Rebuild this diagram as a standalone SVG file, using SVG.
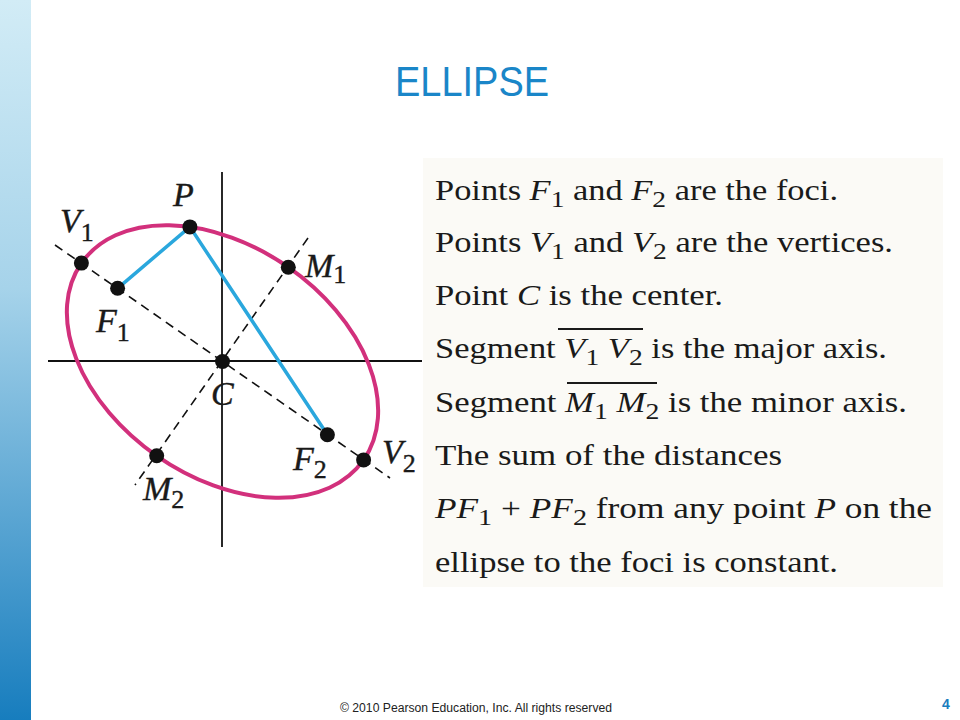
<svg xmlns="http://www.w3.org/2000/svg" width="960" height="720" viewBox="0 0 960 720">
<defs>
<linearGradient id="bar" x1="0" y1="0" x2="0" y2="1">
<stop offset="0" stop-color="#d2ecf6"/>
<stop offset="0.4" stop-color="#a6d3ea"/>
<stop offset="1" stop-color="#177dbe"/>
</linearGradient>
<style>
.lbl{font-family:"Liberation Serif",serif;font-style:italic;font-size:34px;fill:#1a1a1a;stroke:#1a1a1a;stroke-width:0.4}
.lsub{font-family:"Liberation Serif",serif;font-style:normal;font-size:26px}
.sub{font-family:"Liberation Serif",serif;font-style:normal;font-size:24px}
.body{font-family:"Liberation Serif",serif;font-size:30px;fill:#1a1a1a}
.it{font-style:italic}
.dash{stroke:#111;stroke-width:1.6;stroke-dasharray:9 6;fill:none}
.axis{stroke:#111;stroke-width:1.8}
.dot{fill:#111}
.seg{stroke:#2aa7dd;stroke-width:3.5;fill:none}
</style>
</defs>
<rect width="960" height="720" fill="#ffffff"/>
<rect x="0" y="0" width="31" height="720" fill="url(#bar)"/>
<text x="395" y="96" font-family="Liberation Sans, Arial, sans-serif" font-size="43" fill="#1a86c8" textLength="154" lengthAdjust="spacingAndGlyphs">ELLIPSE</text>

<g id="figure">
<g id="axes">
<line class="axis" x1="48" y1="361" x2="422" y2="361"/>
<line class="axis" x1="222" y1="172" x2="222" y2="547"/>
</g>
<g id="connectors">
<line class="dash" x1="55" y1="245" x2="390" y2="478"/>
<line class="dash" x1="308" y1="238" x2="135" y2="485"/>
<ellipse cx="222.5" cy="361.5" rx="172" ry="115" transform="rotate(34.9 222.5 361.5)" fill="none" stroke="#d2307c" stroke-width="4"/>
<polyline class="seg" points="117.6,288.3 189.9,226.9 327.4,434.7"/>
</g>
<g id="node-V1"><circle class="dot" cx="81.4" cy="263.1" r="7.5"/><text class="lbl" x="60" y="232">V<tspan class="lsub" dy="9">1</tspan></text></g>
<g id="node-P"><circle class="dot" cx="189.9" cy="226.9" r="7.5"/><text class="lbl" x="173" y="206">P</text></g>
<g id="node-M1"><circle class="dot" cx="288.3" cy="267.2" r="7.5"/><text class="lbl" x="305" y="277">M<tspan class="lsub" dy="6">1</tspan></text></g>
<g id="node-F1"><circle class="dot" cx="117.6" cy="288.3" r="7.5"/><text class="lbl" x="96" y="332">F<tspan class="lsub" dy="9">1</tspan></text></g>
<g id="node-C"><circle class="dot" cx="222.5" cy="361.5" r="7.5"/><text class="lbl" x="211" y="405">C</text></g>
<g id="node-F2"><circle class="dot" cx="327.4" cy="434.7" r="7.5"/><text class="lbl" x="293" y="470">F<tspan class="lsub" dy="8">2</tspan></text></g>
<g id="node-V2"><circle class="dot" cx="363.6" cy="459.9" r="7.5"/><text class="lbl" x="382" y="463">V<tspan class="lsub" dy="9">2</tspan></text></g>
<g id="node-M2"><circle class="dot" cx="156.7" cy="455.8" r="7.5"/><text class="lbl" x="143" y="500">M<tspan class="lsub" dy="8">2</tspan></text></g>
</g>

<g id="panel">
<rect x="423" y="158" width="520" height="429" fill="#fbfaf6"/>
<text class="body" x="435" y="200" textLength="403" lengthAdjust="spacingAndGlyphs">Points <tspan class="it">F</tspan><tspan class="sub" dy="7">1</tspan><tspan dy="-7"> and </tspan><tspan class="it">F</tspan><tspan class="sub" dy="7">2</tspan><tspan dy="-7"> are the foci.</tspan></text>
<text class="body" x="435" y="252" textLength="458" lengthAdjust="spacingAndGlyphs">Points <tspan class="it">V</tspan><tspan class="sub" dy="7">1</tspan><tspan dy="-7"> and </tspan><tspan class="it">V</tspan><tspan class="sub" dy="7">2</tspan><tspan dy="-7"> are the vertices.</tspan></text>
<text class="body" x="435" y="305" textLength="288" lengthAdjust="spacingAndGlyphs">Point <tspan class="it">C</tspan> is the center.</text>
<text class="body" x="435" y="358" textLength="452" lengthAdjust="spacingAndGlyphs">Segment <tspan class="it">V</tspan><tspan class="sub" dy="7">1</tspan><tspan dy="-7"> </tspan><tspan class="it">V</tspan><tspan class="sub" dy="7">2</tspan><tspan dy="-7"> is the major axis.</tspan></text>
<text class="body" x="435" y="412" textLength="472" lengthAdjust="spacingAndGlyphs">Segment <tspan class="it">M</tspan><tspan class="sub" dy="7">1</tspan><tspan dy="-7"> </tspan><tspan class="it">M</tspan><tspan class="sub" dy="7">2</tspan><tspan dy="-7"> is the minor axis.</tspan></text>
<text class="body" x="435" y="465" textLength="347" lengthAdjust="spacingAndGlyphs">The sum of the distances</text>
<text class="body" x="435" y="518" textLength="497" lengthAdjust="spacingAndGlyphs"><tspan class="it">PF</tspan><tspan class="sub" dy="7">1</tspan><tspan dy="-7"> + </tspan><tspan class="it">PF</tspan><tspan class="sub" dy="7">2</tspan><tspan dy="-7"> from any point </tspan><tspan class="it">P</tspan> on the</text>
<text class="body" x="435" y="572" textLength="403" lengthAdjust="spacingAndGlyphs">ellipse to the foci is constant.</text>
<line x1="558" y1="329" x2="643" y2="329" stroke="#1a1a1a" stroke-width="2.2"/>
<line x1="567" y1="383" x2="657" y2="383" stroke="#1a1a1a" stroke-width="2.2"/>
</g>

<text x="340" y="712" font-family="Liberation Sans, Arial, sans-serif" font-size="12" fill="#222" textLength="272" lengthAdjust="spacingAndGlyphs">© 2010 Pearson Education, Inc.  All rights reserved</text>
<text x="942" y="709" font-family="Liberation Sans, Arial, sans-serif" font-size="14" font-weight="bold" fill="#1a7dbe">4</text>
</svg>
